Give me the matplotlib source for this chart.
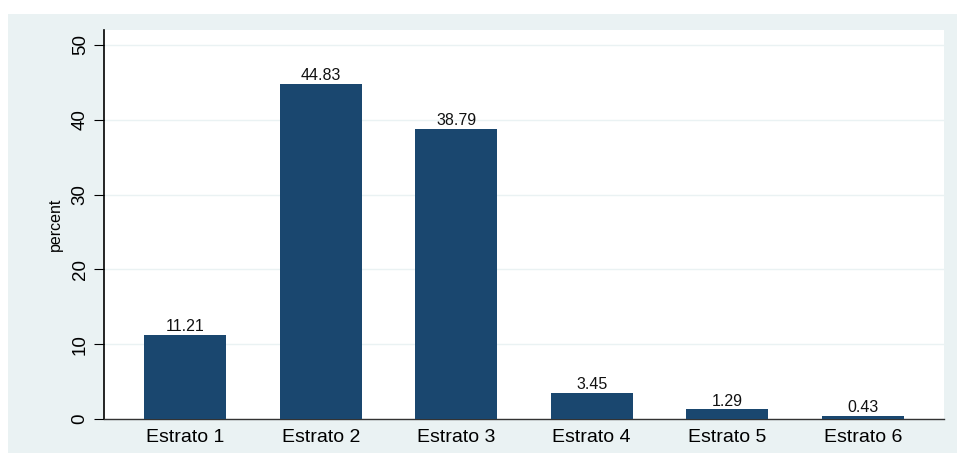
import matplotlib.pyplot as plt
from matplotlib.patches import Rectangle
import numpy as np

categories = ['Estrato 1', 'Estrato 2', 'Estrato 3', 'Estrato 4', 'Estrato 5', 'Estrato 6']
percent = [11.21, 44.83, 38.79, 3.45, 1.29, 0.43]
yticks = [0, 10, 20, 30, 40, 50]

plt.rcParams['font.family'] = ['Liberation Sans', 'DejaVu Sans']

W, H = 957, 453
fig = plt.figure(figsize=(W / 100, H / 100), dpi=100, facecolor='white')

# light outer background (Stata style), white strip at top and left
fig.patches.append(Rectangle((8 / W, 0), 1 - 8 / W, 1 - 14 / H, transform=fig.transFigure,
                             facecolor='#EAF2F3', edgecolor='none', zorder=-1))

ax = fig.add_axes([104 / W, 1 - 419 / H, (944 - 104) / W, (419 - 30) / H])
ax.set_facecolor('white')

x = np.arange(len(categories))
bars = ax.bar(x, percent, width=0.605, color='#1A476F', zorder=3)
ax.bar_label(bars, labels=[f'{v:.2f}' for v in percent], padding=0.5, fontsize=11.5, color='#111111')

ax.set_xlim(-0.6, 5.6)
ax.set_ylim(0, 52)
ax.set_yticks(yticks)
ax.set_yticklabels([str(t) for t in yticks], rotation=90, va='center', fontsize=13.5)
ax.set_xticks(x)
ax.set_xticklabels(categories, fontsize=14)
ax.tick_params(axis='x', length=0, pad=7)
ax.tick_params(axis='y', length=7, width=0.8, pad=4)
ax.set_ylabel('percent', fontsize=11.5, labelpad=6)

ax.grid(axis='y', color='#EAF2F3', linewidth=1, zorder=0)
for s in ['top', 'right']:
    ax.spines[s].set_visible(False)
ax.spines['left'].set_linewidth(1.2)
ax.spines['bottom'].set_linewidth(1.0)
ax.spines['bottom'].set_color('#333333')

fig.savefig('out.png', dpi=100, facecolor=fig.get_facecolor())
